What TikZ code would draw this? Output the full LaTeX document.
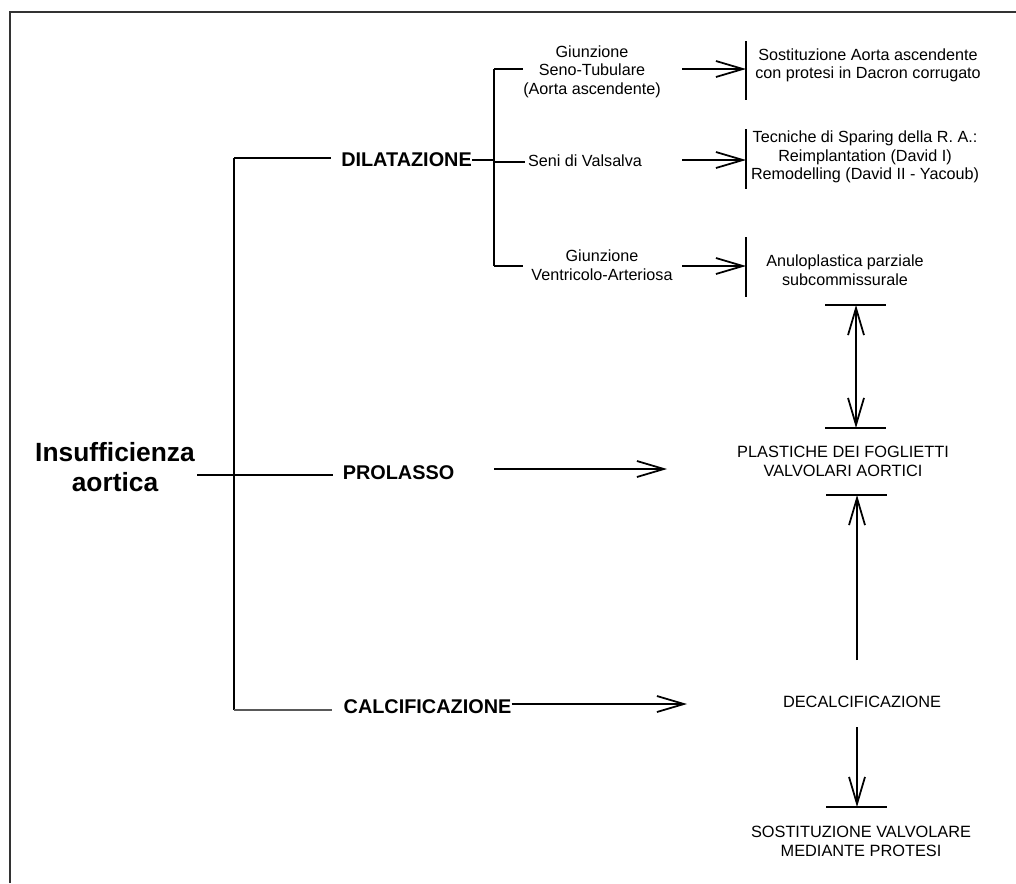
\documentclass[tikz,border=0pt]{standalone}
\usepackage{fontspec}
\setmainfont{Liberation Sans}
\usetikzlibrary{arrows.meta}
\tikzset{
  conn/.style={line width=1pt, black},
  arr/.style={conn, -{Straight Barb[length=0.54cm,width=0.32cm,line width=1pt]}},
  darr/.style={conn, {Straight Barb[length=0.54cm,width=0.32cm,line width=1pt]}-{Straight Barb[length=0.54cm,width=0.32cm,line width=1pt]}},
  small/.style={inner sep=0pt, align=center, font=\fontsize{9.2}{10.6}\selectfont},
  caps/.style={inner sep=0pt, align=center, font=\fontsize{9.3}{10.9}\selectfont},
  cat/.style={inner sep=0pt, font=\fontsize{11.3}{13}\selectfont\bfseries},
  big/.style={inner sep=0pt, align=center, font=\fontsize{15}{17}\selectfont\bfseries},
  frame/.style={line width=0.8pt, black!80}
}
\begin{document}
\begin{tikzpicture}[x=0.02cm, y=-0.02cm]
\useasboundingbox (0,0) rectangle (1016,883);
% frame
\draw[frame] (10,883) -- (10,12) -- (1016,12);

% main nodes
\node[big] (ins) at (115,467) {Insufficienza\\aortica};
\node[cat] (dil) at (406.5,160) {DILATAZIONE};
\node[cat] (pro) at (398.5,473) {PROLASSO};
\node[cat] (cal) at (427.5,707) {CALCIFICAZIONE};

% trunk
\coordinate (jt) at (234,158);
\coordinate (jm) at (234,475);
\coordinate (jb) at (234,710);
\coordinate (insR) at (197,475);
\draw[conn] (jt) -- (jb);
\draw[conn] (jt) -- (331,158) coordinate (dilL);
\draw[conn] (insR) -- (333,475) coordinate (proL);
\draw[line width=0.7pt, black!65] (jb) -- (332,710) coordinate (calL);

% dilatazione sub-tree
\coordinate (dj) at (494,160);
\draw[conn] (dil.east |- dj) -- (dj);
\draw[conn] (494,69) -- (494,266);
\draw[conn] (494,69) -- (523,69) coordinate (g1L);
\draw[conn] (494,162) -- (525,162) coordinate (g2L);
\draw[conn] (494,266) -- (523,266) coordinate (g3L);

\node[small] (g1) at (592,71.5) {Giunzione\\Seno-Tubulare\\(Aorta ascendente)};
\node[small] (g2) at (585,161) {Seni di Valsalva};
\node[small] (g3) at (602,265) {Giunzione\\Ventricolo-Arteriosa};

% arrows to bars
\coordinate (a1s) at (682,69);  \coordinate (b1) at (746,69);
\coordinate (a2s) at (682,160); \coordinate (b2) at (746,160);
\coordinate (a3s) at (682,266); \coordinate (b3) at (746,266);
\draw[arr] (a1s) -- (b1);
\draw[arr] (a2s) -- (b2);
\draw[arr] (a3s) -- (b3);
\draw[conn] (746,41) -- (746,100);
\draw[conn] (746,129) -- (746,189);
\draw[conn] (746,237) -- (746,297);

\node[small] (r1) at (868,65.5) {Sostituzione Aorta ascendente\\con protesi in Dacron corrugato};
\node[small] (r2) at (865,157) {Tecniche di Sparing della R. A.:\\Reimplantation (David I)\\Remodelling (David II - Yacoub)};
\node[small] (r3) at (845,270) {Anuloplastica parziale\\subcommissurale};

% plastiche
\coordinate (pt1) at (856,305);
\coordinate (pt2) at (856,428);
\draw[conn] (825,305) -- (886,305);
\draw[conn] (825,428) -- (886,428);
\draw[darr] (pt1) -- (pt2);
\node[caps] (pl) at (843,461.5) {PLASTICHE DEI FOGLIETTI\\VALVOLARI AORTICI};
\coordinate (pb) at (857,495);
\draw[conn] (826,495) -- (887,495);

% prolasso arrow
\coordinate (pas) at (494,469);
\coordinate (pae) at (667,469);
\draw[arr] (pas) -- (pae);

% calcificazione arrow
\coordinate (cae) at (687,704);
\draw[arr] (cal.east |- cae) -- (cae);

% decalcificazione
\node[caps] (dec) at (862,702) {DECALCIFICAZIONE};
\coordinate (du) at (857,660);
\draw[arr] (du) -- (pb);
\coordinate (dd1) at (857,727);
\coordinate (dd2) at (857,807);
\draw[arr] (dd1) -- (dd2);
\draw[conn] (826,807) -- (887,807);
\node[caps] (sv) at (861,841) {SOSTITUZIONE VALVOLARE\\MEDIANTE PROTESI};
\end{tikzpicture}
\end{document}
